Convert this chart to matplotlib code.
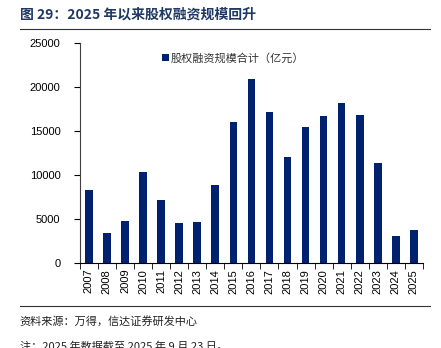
import numpy as np
import matplotlib.pyplot as plt

plt.rcParams['font.family'] = ['Liberation Sans', 'Noto Sans CJK SC', 'DejaVu Sans']
plt.rcParams['axes.unicode_minus'] = False

years = ['2007', '2008', '2009', '2010', '2011', '2012', '2013', '2014', '2015', '2016',
         '2017', '2018', '2019', '2020', '2021', '2022', '2023', '2024', '2025']
equity_financing = [8300, 3400, 4780, 10350, 7150, 4550, 4660, 8870, 16000, 20900,
                    17200, 12060, 15420, 16680, 18180, 16880, 11330, 3080, 3760]
y_ticks = [0, 5000, 10000, 15000, 20000, 25000]

bar_color = '#002070'
title_color = '#1F3864'

fig = plt.figure(figsize=(4.41, 3.48), dpi=100)
ax = fig.add_axes([0.181, 0.2434, 0.778, 0.633])

x = np.arange(len(years))
ax.bar(x, equity_financing, width=0.42, color=bar_color, label='股权融资规模合计（亿元）')

ax.set_xlim(-0.5, len(years) - 0.5)
ax.set_ylim(0, 25000)
ax.set_yticks(y_ticks)
ax.set_yticklabels([str(v) for v in y_ticks], fontsize=8)
ax.set_xticks(x)
ax.set_xticklabels(years, rotation=90, fontsize=8)
ax.tick_params(axis='x', length=0, pad=4)
ax.set_xticks(np.arange(-0.5, len(years)), minor=True)
ax.tick_params(axis='x', which='minor', length=4, direction='out')
ax.tick_params(axis='y', length=4, direction='out', pad=10)

for s in ['top', 'right']:
    ax.spines[s].set_visible(False)
ax.spines['left'].set_color('#404040')
ax.spines['bottom'].set_color('black')

leg = ax.legend(loc='upper left', bbox_to_anchor=(0.21, 1.0), frameon=False,
                fontsize=8, handlelength=0.6, handleheight=0.6, handletextpad=0.2,
                prop={'family': ['Noto Sans CJK SC'], 'size': 8})
for t in leg.get_texts():
    t.set_color('#333333')

# 标题和分隔线
fig.text(0.045, 0.958, '图 29：2025 年以来股权融资规模回升', fontsize=10, fontweight='bold',
         color=title_color, va='center', family=['Noto Sans CJK SC', 'DejaVu Sans'])
fig.add_artist(plt.Line2D([0.045, 0.975], [0.918, 0.918], color='#333333', linewidth=0.8))
fig.add_artist(plt.Line2D([0.045, 0.975], [0.122, 0.122], color='#333333', linewidth=0.8))

fig.text(0.045, 0.078, '资料来源：万得，信达证券研发中心', fontsize=8, style='italic',
         color='#222222', va='center', family=['Noto Sans CJK SC', 'DejaVu Sans'])
fig.text(0.045, 0.004, '注：2025 年数据截至 2025 年 9 月 23 日。', fontsize=8, style='italic',
         color='#222222', va='center', family=['Noto Sans CJK SC', 'DejaVu Sans'])

fig.savefig('out.png', dpi=100)
